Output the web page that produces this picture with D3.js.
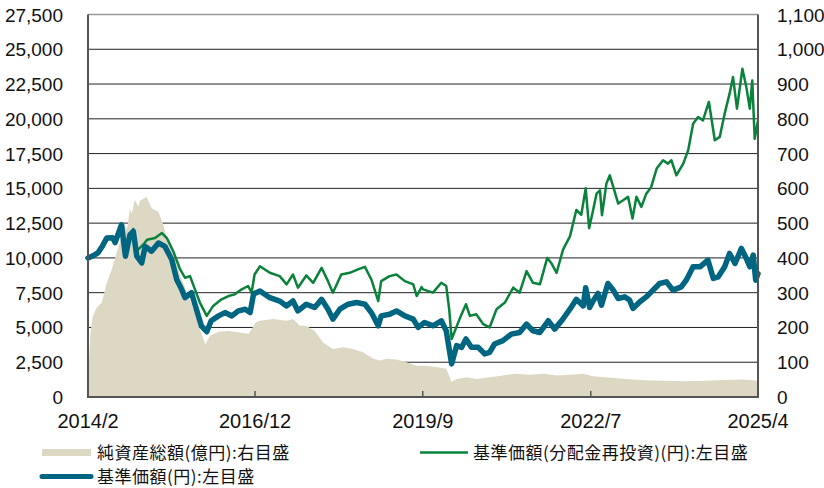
<!DOCTYPE html>
<html>
<head>
<meta charset="utf-8">
<script src="https://cdn.jsdelivr.net/npm/d3@7"></script>
<style>
  html, body { margin: 0; padding: 0; background: #fff; }
  #chart { width: 824px; height: 488px; }
</style>
</head>
<body>
<div id="chart"></div>
<script>
// 基準価額(円)
const navSeries = [
  ["2014-02-28",10000],["2014-03-30",10150],["2014-04-29",10360],["2014-05-29",10900],["2014-06-22",11430],
  ["2014-07-28",11450],["2014-08-12",11100],["2014-09-20",12380],["2014-10-14",10120],["2014-11-10",11670],
  ["2014-12-01",11900],["2014-12-22",10120],["2015-01-21",9640],["2015-02-11",10830],["2015-03-22",10480],
  ["2015-05-03",11070],["2015-06-11",10830],["2015-07-23",9880],["2015-08-22",8450],["2015-09-21",7740],
  ["2015-10-12",7140],["2015-11-20",7500],["2015-12-20",6310],["2016-01-19",5120],["2016-02-21",4690],
  ["2016-03-19",5480],["2016-05-03",5830],["2016-06-11",6070],["2016-07-23",5830],["2016-08-31",6190],
  ["2016-10-12",6310],["2016-11-11",6070],["2016-12-02",7400],["2017-01-10",7620],["2017-03-11",7140],
  ["2017-05-10",6900],["2017-06-21",6550],["2017-07-30",6900],["2017-08-29",6190],["2017-10-19",6670],
  ["2017-12-09",6430],["2018-01-20",7020],["2018-02-28",6310],["2018-03-30",5600],["2018-05-11",6310],
  ["2018-07-01",6670],["2018-08-21",6790],["2018-10-11",6670],["2018-11-19",6070],["2018-12-31",5120],
  ["2019-01-18",5830],["2019-03-10",5950],["2019-04-21",6190],["2019-06-11",5830],["2019-08-01",5600],
  ["2019-08-31",5000],["2019-10-09",5360],["2019-11-29",5120],["2020-01-19",5480],["2020-02-18",4760],
  ["2020-03-07",3450],["2020-03-22",2380],["2020-04-21",3690],["2020-05-21",3570],["2020-06-17",4170],
  ["2020-07-20",3570],["2020-08-31",3570],["2020-10-09",3100],["2020-11-08",3210],["2020-12-08",3810],
  ["2021-01-28",4050],["2021-03-20",4520],["2021-05-10",4640],["2021-06-21",5240],["2021-07-30",4760],
  ["2021-09-10",4640],["2021-10-31",5480],["2021-12-09",4880],["2022-01-20",5480],["2022-03-12",6310],
  ["2022-04-20",7020],["2022-06-01",6550],["2022-06-16",7860],["2022-07-10",6430],["2022-07-31",6900],
  ["2022-08-30",7440],["2022-09-20",6600],["2022-10-29",8160],["2022-12-01",7680],["2022-12-31",7080],
  ["2023-02-08",7200],["2023-03-10",6970],["2023-03-31",6370],["2023-05-12",6850],["2023-06-20",7200],
  ["2023-08-10",7800],["2023-09-09",8160],["2023-10-21",8280],["2023-11-29",7680],["2024-01-19",7920],
  ["2024-02-18",8400],["2024-03-31",9360],["2024-05-12",9360],["2024-06-29",9840],["2024-08-01",8520],
  ["2024-08-31",8640],["2024-10-09",9360],["2024-11-08",10320],["2024-12-11",9600],["2025-01-19",10680],
  ["2025-02-18",9960],["2025-03-11",9360],["2025-04-01",10200],["2025-04-16",8400],["2025-04-30",8880]
];

// 基準価額(分配金再投資)(円)
const reinvSeries = [
  ["2014-02-28",10000],["2014-03-30",10150],["2014-04-29",10360],["2014-05-29",10900],["2014-06-22",11430],
  ["2014-07-28",11450],["2014-08-12",11100],["2014-09-20",12380],["2014-10-14",10120],["2014-11-10",11670],
  ["2014-12-01",12070],["2014-12-22",10500],["2015-01-30",10950],["2015-02-23",11310],["2015-04-12",11430],
  ["2015-05-24",11790],["2015-06-23",11430],["2015-08-01",10480],["2015-09-12",9170],["2015-10-12",8570],
  ["2015-11-11",8690],["2015-12-11",7740],["2016-01-10",6790],["2016-02-21",5830],["2016-03-31",6550],
  ["2016-05-21",7020],["2016-07-02",7260],["2016-08-10",7380],["2016-09-21",7740],["2016-10-30",7980],
  ["2016-11-20",7500],["2016-12-08",8810],["2017-01-10",9400],["2017-03-11",8930],["2017-05-10",8690],
  ["2017-06-21",8100],["2017-07-30",8810],["2017-08-29",7860],["2017-10-19",8740],["2017-11-30",8210],
  ["2018-01-20",9290],["2018-02-28",8330],["2018-03-30",7500],["2018-05-20",8810],["2018-07-10",8930],
  ["2018-08-30",9170],["2018-10-11",9360],["2018-11-19",8450],["2018-12-31",6900],["2019-01-18",8330],
  ["2019-03-10",8690],["2019-04-21",8810],["2019-06-11",8330],["2019-08-01",8100],["2019-08-22",7260],
  ["2019-09-21",7900],["2019-09-30",7740],["2019-11-29",7500],["2020-01-19",8210],["2020-02-18",7980],
  ["2020-03-07",6300],["2020-03-22",4170],["2020-05-09",5600],["2020-06-17",6670],["2020-07-11",5830],
  ["2020-08-19",5950],["2020-09-30",5240],["2020-11-08",5000],["2020-12-20",6310],["2021-02-09",6790],
  ["2021-04-01",7860],["2021-05-10",7500],["2021-06-21",9050],["2021-07-30",8210],["2021-09-10",8100],
  ["2021-10-25",10000],["2021-11-18",9640],["2021-12-21",8930],["2022-01-29",10600],["2022-03-12",11550],
  ["2022-04-20",13450],["2022-05-20",13100],["2022-06-16",15000],["2022-07-07",12140],["2022-07-31",13430],
  ["2022-08-21",14620],["2022-09-11",14860],["2022-09-23",13070],["2022-10-20",15340],["2022-11-10",15940],
  ["2022-12-01",15100],["2022-12-31",13910],["2023-01-30",14150],["2023-03-01",14390],["2023-03-28",12830],
  ["2023-04-21",14390],["2023-05-21",13670],["2023-06-20",14620],["2023-07-20",15100],["2023-08-22",16420],
  ["2023-09-30",17020],["2023-10-30",16780],["2023-11-20",17020],["2023-12-20",15940],["2024-01-31",16780],
  ["2024-03-01",17740],["2024-03-31",19650],["2024-04-30",20130],["2024-05-30",19890],["2024-07-05",21210],
  ["2024-08-10",18460],["2024-09-09",18700],["2024-10-09",20370],["2024-11-08",21810],["2024-11-29",23000],
  ["2024-12-23",20730],["2025-01-25",23600],["2025-02-18",22280],["2025-03-11",20730],["2025-03-26",22760],
  ["2025-04-10",18570],["2025-04-30",19890]
];

// 純資産総額(億円)
const assetSeries = [
  ["2014-02-28",0],["2014-03-06",100],["2014-03-14",180],["2014-03-28",230],["2014-04-20",256],
  ["2014-05-23",272],["2014-06-22",328],["2014-07-22",367],["2014-08-21",414],["2014-09-20",462],
  ["2014-10-05",500],["2014-10-23",481],["2014-11-10",540],["2014-11-22",528],["2014-12-10",567],
  ["2014-12-31",548],["2015-01-12",565],["2015-02-20",576],["2015-03-22",543],["2015-05-03",533],
  ["2015-06-02",495],["2015-07-02",443],["2015-08-13",395],["2015-09-21",338],["2015-11-02",290],
  ["2015-12-11",243],["2016-01-10",195],["2016-02-12",152],["2016-03-13",176],["2016-05-03",188],
  ["2016-07-02",190],["2016-08-31",186],["2016-11-02",181],["2016-12-14",214],["2017-01-10",219],
  ["2017-04-01",224],["2017-06-21",219],["2017-07-30",224],["2017-09-10",205],["2017-10-19",205],
  ["2017-12-09",190],["2018-01-29",157],["2018-03-30",138],["2018-06-01",143],["2018-07-31",138],
  ["2018-09-29",129],["2018-12-01",110],["2019-01-09",105],["2019-02-20",110],["2019-04-21",108],
  ["2019-06-20",100],["2019-08-22",90],["2019-10-09",90],["2019-12-20",86],["2020-02-18",81],
  ["2020-03-22",43],["2020-04-21",52],["2020-06-20",57],["2020-08-19",52],["2020-11-08",57],
  ["2021-01-28",62],["2021-04-19",67],["2021-07-12",64],["2021-10-01",67],["2021-12-21",62],
  ["2022-03-12",64],["2022-06-01",67],["2022-07-31",60],["2022-10-14",57],["2023-02-11",52],
  ["2023-06-11",48],["2023-10-09",47],["2024-02-06",45],["2024-06-05",47],["2024-10-03",49],
  ["2025-01-31",50],["2025-04-30",47]
];

const xDomain = ["2014-02-28", "2025-04-30"];
const xTickDates = ["2014-02-28", "2016-12-11", "2019-09-28", "2022-07-17", "2025-04-30"];
const leftTicks = [0, 2500, 5000, 7500, 10000, 12500, 15000, 17500, 20000, 22500, 25000, 27500];
const rightTicks = [0, 100, 200, 300, 400, 500, 600, 700, 800, 900, 1000, 1100];
const legendLabels = ["純資産総額(億円):右目盛", "基準価額(分配金再投資)(円):左目盛", "基準価額(円):左目盛"];

const width = 824, height = 488;
const margin = { top: 14.5, right: 66, bottom: 91, left: 88 };
const parse = d3.timeParse("%Y-%m-%d");
const numFont = "'Liberation Sans', Arial, sans-serif";
const jpFont = "'Noto Sans CJK JP', sans-serif";
const colors = { asset: "#dcd8c4", reinv: "#0a823c", nav: "#006580" };

const svg = d3.select("#chart").append("svg").attr("width", width).attr("height", height);

const x = d3.scaleTime().domain(xDomain.map(parse)).range([margin.left, width - margin.right]);
const yL = d3.scaleLinear().domain([0, 27500]).range([height - margin.bottom, margin.top]);
const yR = d3.scaleLinear().domain([0, 1100]).range([height - margin.bottom, margin.top]);
const x0 = margin.left, x1 = width - margin.right, yB = height - margin.bottom;

// grid lines
svg.append("g").selectAll("line").data(leftTicks.filter(t => t > 0 && t < 27500)).enter().append("line")
  .attr("x1", x0).attr("x2", x1).attr("y1", d => yL(d)).attr("y2", d => yL(d))
  .attr("stroke", "#222").attr("stroke-width", 1);

// net assets area
svg.append("path").datum(assetSeries)
  .attr("fill", colors.asset)
  .attr("d", d3.area().x(d => x(parse(d[0]))).y0(yB).y1(d => yR(d[1])));

const line = d3.line().x(d => x(parse(d[0]))).y(d => yL(d[1]));
svg.append("path").datum(reinvSeries)
  .attr("fill", "none").attr("stroke", colors.reinv).attr("stroke-width", 2.5)
  .attr("stroke-linejoin", "round").attr("d", line);
svg.append("path").datum(navSeries)
  .attr("fill", "none").attr("stroke", colors.nav).attr("stroke-width", 5.5)
  .attr("stroke-linejoin", "round").attr("stroke-linecap", "round").attr("d", line);

// frame
svg.append("line").attr("x1", x0).attr("x2", x1).attr("y1", yL(27500)).attr("y2", yL(27500))
  .attr("stroke", "#999").attr("stroke-width", 1.5);
svg.append("line").attr("x1", x0).attr("x2", x0).attr("y1", yL(27500)).attr("y2", yB)
  .attr("stroke", "#555").attr("stroke-width", 2);
svg.append("line").attr("x1", x1).attr("x2", x1).attr("y1", yL(27500)).attr("y2", yB)
  .attr("stroke", "#555").attr("stroke-width", 2);
svg.append("line").attr("x1", x0 - 1).attr("x2", x1 + 1).attr("y1", yB).attr("y2", yB)
  .attr("stroke", "#555").attr("stroke-width", 2);

// x ticks and labels
const xt = svg.append("g");
xt.selectAll("line").data(xTickDates.slice(1, -1)).enter().append("line")
  .attr("x1", d => x(parse(d))).attr("x2", d => x(parse(d)))
  .attr("y1", yB).attr("y2", yB - 6).attr("stroke", "#555").attr("stroke-width", 1.5);
xt.selectAll("text").data(xTickDates).enter().append("text")
  .attr("x", d => x(parse(d))).attr("y", yB + 31)
  .attr("text-anchor", "middle").attr("font-family", numFont).attr("font-size", 20).attr("fill", "#111")
  .text(d => d3.timeFormat("%Y/%-m")(parse(d)));

// y labels
const fmt = d3.format(",");
svg.append("g").selectAll("text").data(leftTicks).enter().append("text")
  .attr("x", 63).attr("y", d => yL(d) + 7)
  .attr("text-anchor", "end").attr("font-family", numFont).attr("font-size", 19).attr("fill", "#111")
  .text(fmt);
svg.append("g").selectAll("text").data(rightTicks).enter().append("text")
  .attr("x", 777).attr("y", d => yR(d) + 7)
  .attr("text-anchor", "start").attr("font-family", numFont).attr("font-size", 19).attr("fill", "#111")
  .text(fmt);

// legend
const lg = svg.append("g").attr("font-family", jpFont).attr("font-size", 17)
  .attr("letter-spacing", 0.5).attr("fill", "#111");
lg.append("rect").attr("x", 42).attr("y", 449).attr("width", 49).attr("height", 7).attr("fill", colors.asset);
lg.append("text").attr("x", 97).attr("y", 459).text(legendLabels[0]);
lg.append("line").attr("x1", 420).attr("x2", 468).attr("y1", 452.5).attr("y2", 452.5)
  .attr("stroke", colors.reinv).attr("stroke-width", 2.5);
lg.append("text").attr("x", 473).attr("y", 459).text(legendLabels[1]);
lg.append("line").attr("x1", 42).attr("x2", 91).attr("y1", 476.5).attr("y2", 476.5)
  .attr("stroke", colors.nav).attr("stroke-width", 5).attr("stroke-linecap", "round");
lg.append("text").attr("x", 97).attr("y", 483).text(legendLabels[2]);
</script>
</body>
</html>
